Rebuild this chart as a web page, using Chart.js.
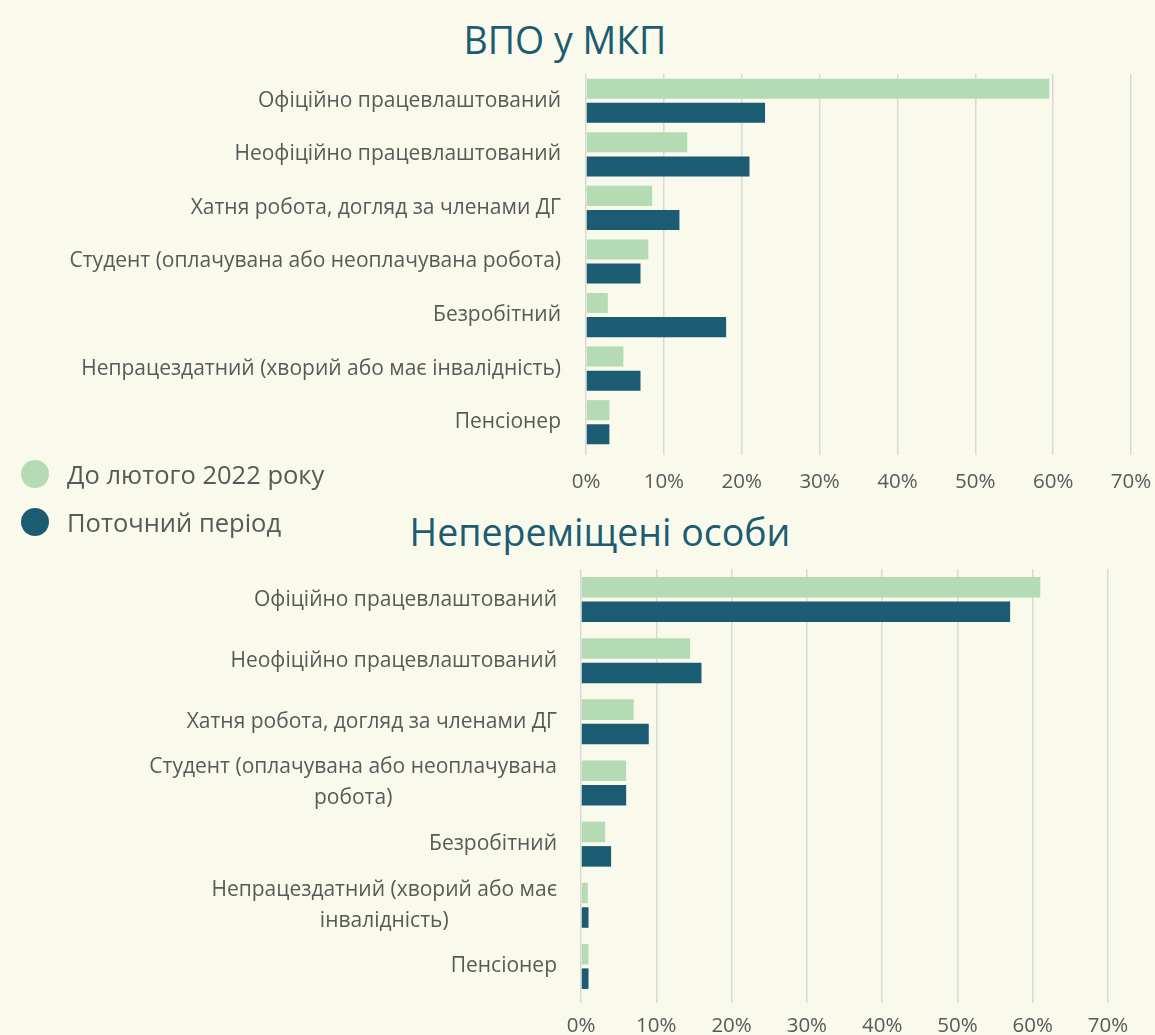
<!DOCTYPE html>
<html lang="uk">
<head>
<meta charset="utf-8">
<title>ВПО у МКП</title>
<script src="https://cdn.jsdelivr.net/npm/chart.js@4.4.1/dist/chart.umd.min.js"></script>
<style>
  html, body { margin: 0; padding: 0; background: #F9F9EC; }
  #page { position: relative; width: 1155px; height: 1035px; overflow: hidden; font-family: "Open Sans", sans-serif; }
  .title { position: absolute; width: 500px; font-size: 37.5px; line-height: 40px; color: #1B5C72; text-align: center; white-space: nowrap; }
  #title1 { left: 315px; top: 20px; }
  #title2 { left: 350px; top: 512px; }
  canvas { position: absolute; left: 0; }
  #chart1 { top: 60px; }
  #chart2 { top: 550px; }
  #legend { position: absolute; left: 21px; top: 450px; }
  .leg { display: flex; align-items: center; height: 48px; font-size: 25.5px; color: #595959; }
  .dot { width: 28px; height: 28px; border-radius: 50%; margin-right: 18px; }
</style>
</head>
<body>
<div id="page">
  <div class="title" id="title1">ВПО у МКП</div>
  <div class="title" id="title2">Непереміщені особи</div>
  <canvas id="chart1" width="1155" height="440"></canvas>
  <canvas id="chart2" width="1155" height="485"></canvas>
  <div id="legend"></div>
</div>
<script>
// категорії
const categoriesTop = [
    'Офіційно працевлаштований',
    'Неофіційно працевлаштований',
    'Хатня робота, догляд за членами ДГ',
    'Студент (оплачувана або неоплачувана робота)',
    'Безробітний',
    'Непрацездатний (хворий або має інвалідність)',
    'Пенсіонер'
];
const categoriesBottom = [
    'Офіційно працевлаштований',
    'Неофіційно працевлаштований',
    'Хатня робота, догляд за членами ДГ',
    ['Студент (оплачувана або неоплачувана', 'робота)'],
    'Безробітний',
    ['Непрацездатний (хворий або має', 'інвалідність)'],
    'Пенсіонер'
];

const seriesNames = ['До лютого 2022 року', 'Поточний період'];
const seriesColors = ['#B4DBB4', '#1B5C72'];

// ВПО у МКП, %
const idpBefore = [59.5, 13, 8.5, 8, 2.8, 4.8, 3];
const idpNow = [23, 21, 12, 7, 18, 7, 3];

// Непереміщені особи, %
const localBefore = [61, 14.5, 7, 6, 3.2, 0.9, 1];
const localNow = [57, 16, 9, 6, 4, 1, 1];

const tickLabels = ['0%', '10%', '20%', '30%', '40%', '50%', '60%', '70%'];

// підписи категорій як в Excel: рядки по центру, блок праворуч
const catLabels = {
    id: 'catLabels',
    afterDraw(chart, args, o) {
        const ctx = chart.ctx;
        const yScale = chart.scales.y;
        ctx.save();
        ctx.font = o.font;
        ctx.fillStyle = o.color;
        ctx.textBaseline = 'middle';
        ctx.textAlign = 'center';
        chart.data.labels.forEach((lab, i) => {
            const lines = [].concat(lab);
            const w = Math.max(...lines.map(l => ctx.measureText(l).width));
            const cx = chart.chartArea.left - o.gap - w / 2;
            const y0 = yScale.getPixelForValue(i) - (lines.length - 1) * o.lineHeight / 2;
            lines.forEach((l, k) => ctx.fillText(l, cx, y0 + k * o.lineHeight));
        });
        ctx.restore();
    }
};

function makeChart(id, labels, before, now, s) {
    return new Chart(document.getElementById(id), {
        type: 'bar',
        data: {
            labels: labels,
            datasets: [
                { label: seriesNames[0], data: before, backgroundColor: seriesColors[0] },
                { label: seriesNames[1], data: now, backgroundColor: seriesColors[1] }
            ]
        },
        options: {
            indexAxis: 'y',
            responsive: false,
            animation: false,
            events: [],
            categoryPercentage: s.catPct,
            barPercentage: s.barPct,
            layout: { padding: { top: s.padTop, right: s.padRight, left: 0, bottom: 0 } },
            plugins: {
                legend: { display: false },
                tooltip: { enabled: false },
                catLabels: { font: '21px "Open Sans"', color: '#595959', gap: s.gap, lineHeight: 31 }
            },
            scales: {
                x: {
                    min: 0, max: 70,
                    ticks: {
                        stepSize: 10,
                        padding: s.tickPad,
                        color: '#595959',
                        font: { family: 'Open Sans', size: 20.5 },
                        callback: (v, i) => tickLabels[i]
                    },
                    grid: { color: '#D9D9D9', lineWidth: 1.5, drawTicks: true, tickLength: 6 },
                    border: { display: false },
                    afterFit: sc => { sc.height = s.axisH; sc.paddingRight = 0; sc.paddingLeft = 0; }
                },
                y: {
                    ticks: { display: false },
                    grid: { display: false },
                    border: { display: false },
                    afterFit: sc => { sc.width = s.left; }
                }
            }
        },
        plugins: [catLabels]
    });
}

makeChart('chart1', categoriesTop, idpBefore, idpNow,
    { catPct: 0.9, barPct: 0.83, padTop: 14, padRight: 24, left: 586, gap: 25, axisH: 51, tickPad: 15 });
makeChart('chart2', categoriesBottom, localBefore, localNow,
    { catPct: 0.8, barPct: 0.84, padTop: 19, padRight: 47, left: 581, gap: 24, axisH: 38, tickPad: 11 });

// легенда
const legend = document.getElementById('legend');
seriesNames.forEach((name, i) => {
    const row = document.createElement('div');
    row.className = 'leg';
    row.innerHTML = `<span class="dot" style="background:${seriesColors[i]}"></span><span>${name}</span>`;
    legend.appendChild(row);
});
</script>
</body>
</html>
